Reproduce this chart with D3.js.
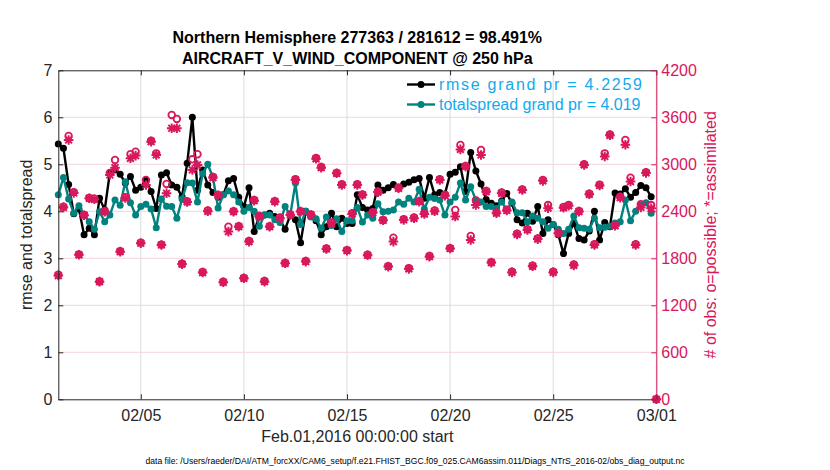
<!DOCTYPE html>
<html><head><meta charset="utf-8">
<script src="https://cdn.jsdelivr.net/npm/d3@7"></script>
<style>
body{margin:0;background:#fff;}
svg{display:block;font-family:"Liberation Sans",Arial,Helvetica,sans-serif;}
</style></head>
<body><svg id="c" width="830" height="470"></svg>
<script>
const titleLines = ["Northern Hemisphere 277363 / 281612 = 98.491%", "AIRCRAFT_V_WIND_COMPONENT @ 250 hPa"];
const xTickDates = ["2016-02-05","2016-02-10","2016-02-15","2016-02-20","2016-02-25","2016-03-01"];
const yLeftTicks = [0,1,2,3,4,5,6,7];
const yRightTicks = [0,600,1200,1800,2400,3000,3600,4200];
const legendLabels = ["rmse grand pr = 4.2259", "totalspread grand pr = 4.019"];

const rmse = [5.43,5.34,4.57,3.95,4.05,3.5,3.64,3.5,4.28,4.03,4.82,4.88,4.79,4.6,4.74,4.45,4.51,4.67,4.42,4.06,
4.77,4.82,4.56,4.51,4.31,5.02,6.0,4.45,4.88,4.56,4.4,4.3,4.35,4.65,4.7,4.3,4.1,4.5,3.57,3.9,
3.92,3.96,3.89,3.82,3.62,3.92,3.82,3.33,4.0,3.9,3.8,3.5,3.67,3.96,3.67,3.85,3.74,3.74,4.35,4.08,
4.03,4.06,4.56,4.45,4.5,4.57,4.5,4.58,4.62,4.67,4.7,4.28,4.72,4.35,4.4,4.37,4.79,4.83,4.95,4.42,
5.25,4.86,4.58,4.25,4.17,4.12,4.22,4.38,4.17,3.82,3.75,3.96,3.79,4.1,3.53,3.82,3.72,3.5,3.1,3.53,
3.74,3.42,3.39,3.58,4.0,3.39,3.76,3.67,4.39,4.37,4.48,4.3,4.4,4.55,4.5,4.31];

const spread = [4.35,4.72,4.26,3.96,4.12,3.92,3.78,3.62,3.99,3.78,3.92,4.24,4.13,4.63,4.18,3.92,4.1,4.15,4.05,3.65,
4.26,4.11,4.1,3.85,4.26,4.61,4.6,4.2,4.8,5.0,4.72,4.07,4.35,4.43,4.35,4.2,4.0,4.08,4.0,3.68,
3.92,3.92,3.82,3.76,4.1,3.92,4.6,3.72,4.0,3.88,3.84,3.64,3.88,3.7,3.84,3.57,3.8,3.8,4.08,3.77,
3.92,3.85,4.16,3.99,4.0,4.03,4.2,4.15,4.28,4.2,4.47,4.05,4.3,4.27,4.24,3.92,4.2,4.3,4.6,4.24,
4.52,4.24,4.2,4.1,4.1,4.06,4.2,4.03,4.2,3.97,3.97,3.78,3.9,3.85,3.78,3.64,3.72,3.62,3.53,3.62,
3.9,3.65,3.64,3.62,3.85,3.65,3.66,3.68,3.75,3.78,4.24,3.8,4.0,4.13,4.18,3.96];

const assimilated = [1580,2450,3311,2635,1845,2350,2566,2553,1502,2396,2864,2957,1885,2570,3077,3111,1992,2736,3289,3119,
1970,2630,3460,3460,1726,2520,2928,2992,1618,2400,2830,2605,1494,2141,2396,2204,1545,2013,2536,2332,
1502,2204,2523,2311,1736,2353,2800,2396,1758,2353,3070,2957,1919,2247,2885,2736,1898,2365,2736,2609,
1838,2380,2645,2285,1694,2013,2694,2290,1665,2311,2524,2365,1821,2400,2800,2600,1925,2333,3190,2970,
2034,2480,3119,2651,1745,2375,2630,2410,1620,2105,2672,2162,1698,2045,2789,2440,1620,2119,2445,2470,
1710,2396,2992,2617,1970,2730,3100,3370,2215,2575,3250,2780,1970,2450,2890,2438,0];

const possible = [1590,2460,3362,2645,1850,2355,2570,2560,1505,2400,2890,3055,1890,2580,3128,3160,2000,2800,3300,3140,
1975,2749,3630,3579,1730,2525,3064,3128,1625,2410,2840,2610,1500,2204,2400,2210,1550,2020,2545,2340,
1510,2210,2530,2320,1740,2360,2810,2400,1765,2360,3080,2965,1925,2255,2890,2745,1905,2375,2745,2615,
1845,2390,2650,2290,1700,2064,2700,2300,1675,2320,2530,2375,1830,2410,2810,2610,1930,2417,3247,2980,
2085,2540,3183,2660,1750,2385,2640,2420,1630,2115,2680,2170,1705,2055,2800,2480,1630,2125,2455,2480,
1720,2405,3000,2625,1980,2740,3140,3380,2225,2585,3311,2830,1980,2490,2900,2480,0];

const startDate = new Date(Date.UTC(2016,1,1));
const endDate = new Date(Date.UTC(2016,2,1));
const times = d3.range(possible.length).map(i => d3.utcHour.offset(startDate, 6*i));

const C_MAG = "#d8175c", C_TEAL = "#00827f", C_BLK = "#000000", C_AX = "#262626", C_LEG = "#11aaee";
const L = 58.3, R = 656.3, T = 70.3, B = 399.3;

const svg = d3.select("#c");
const x = d3.scaleUtc().domain([startDate, endDate]).range([L, R]);
const yL = d3.scaleLinear().domain([0,7]).range([B, T]);
const yR = d3.scaleLinear().domain([0,4200]).range([B, T]);
const xTicks = xTickDates.map(s => new Date(s + "T00:00:00Z"));

// grid
svg.append("g").selectAll("line").data(xTicks).join("line")
  .attr("x1", d => x(d)).attr("x2", d => x(d)).attr("y1", T).attr("y2", B)
  .attr("stroke", "#dcdcdc").attr("stroke-width", 1);
svg.append("g").selectAll("line").data(yRightTicks.slice(1, -1)).join("line")
  .attr("x1", L).attr("x2", R).attr("y1", d => yR(d)).attr("y2", d => yR(d))
  .attr("stroke", "#f6d3df").attr("stroke-width", 1);

// series lines
function series(vals, color) {
  const g = svg.append("g");
  g.append("path").datum(vals)
    .attr("fill", "none").attr("stroke", color).attr("stroke-width", 2.4).attr("stroke-linejoin", "round")
    .attr("d", d3.line().x((d, i) => x(times[i])).y(d => yL(d)));
  g.selectAll("circle").data(vals).join("circle")
    .attr("cx", (d, i) => x(times[i])).attr("cy", d => yL(d)).attr("r", 3.5).attr("fill", color);
}
series(rmse, C_BLK);
series(spread, C_TEAL);

// counts
const star = "M-4.8,0H4.8M0,-4.8V4.8M-3.4,-3.4L3.4,3.4M-3.4,3.4L3.4,-3.4";
const gc = svg.append("g");
gc.selectAll("circle").data(possible).join("circle")
  .attr("cx", (d, i) => x(times[i])).attr("cy", d => yR(d)).attr("r", 3.3)
  .attr("fill", "none").attr("stroke", C_MAG).attr("stroke-width", 1.8);
gc.selectAll("path").data(assimilated).join("path")
  .attr("transform", (d, i) => `translate(${x(times[i])},${yR(d)})`)
  .attr("d", star).attr("fill", "none").attr("stroke", C_MAG).attr("stroke-width", 2);

// axes
const axB = d3.axisBottom(x).tickValues(xTicks).tickFormat(d3.utcFormat("%m/%d")).tickSizeInner(-5).tickSizeOuter(0).tickPadding(10);
const axT = d3.axisTop(x).tickValues(xTicks).tickFormat("").tickSizeInner(-5).tickSizeOuter(0);
const axL = d3.axisLeft(yL).tickValues(yLeftTicks).tickFormat(d3.format("d")).tickSizeInner(-5).tickSizeOuter(0).tickPadding(6);
const axR = d3.axisRight(yR).tickValues(yRightTicks).tickFormat(d3.format("d")).tickSizeInner(-5).tickSizeOuter(0).tickPadding(5);

function styleAx(g, color) {
  g.selectAll("path.domain").attr("stroke", color).attr("stroke-width", 1);
  g.selectAll(".tick line").attr("stroke", color);
  g.selectAll(".tick text").attr("fill", color).style("font-size", "16px").style("font-family", '"Liberation Sans",Arial,sans-serif');
}
styleAx(svg.append("g").attr("transform", `translate(0,${B})`).call(axB), C_AX);
styleAx(svg.append("g").attr("transform", `translate(0,${T})`).call(axT), C_AX);
styleAx(svg.append("g").attr("transform", `translate(${L},0)`).call(axL), C_AX);
styleAx(svg.append("g").attr("transform", `translate(${R},0)`).call(axR), C_MAG);

// titles
svg.append("g").selectAll("text").data(titleLines).join("text")
  .attr("x", (L + R) / 2).attr("y", (d, i) => 43 + i * 20.5)
  .attr("text-anchor", "middle").attr("font-weight", "bold").attr("font-size", 16).attr("fill", "#000")
  .text(d => d);

svg.append("text").attr("transform", `translate(32,${(T + B) / 2}) rotate(-90)`)
  .attr("text-anchor", "middle").attr("font-size", 16).attr("fill", C_AX).text("rmse and totalspread");
svg.append("text").attr("transform", `translate(716,${(T + B) / 2}) rotate(-90)`)
  .attr("text-anchor", "middle").attr("font-size", 16).attr("fill", C_MAG).text("# of obs: o=possible; *=assimilated");
svg.append("text").attr("x", (L + R) / 2).attr("y", 442)
  .attr("text-anchor", "middle").attr("font-size", 16).attr("fill", C_AX).text("Feb.01,2016 00:00:00 start");
svg.append("text").attr("x", 415).attr("y", 464)
  .attr("text-anchor", "middle").attr("font-size", 8.6).attr("fill", "#000")
  .text("data file: /Users/raeder/DAI/ATM_forcXX/CAM6_setup/f.e21.FHIST_BGC.f09_025.CAM6assim.011/Diags_NTrS_2016-02/obs_diag_output.nc");

// legend
const leg = svg.append("g");
[C_BLK, C_TEAL].forEach((c, i) => {
  const yy = 84.5 + i * 20;
  leg.append("line").attr("x1", 407).attr("x2", 435).attr("y1", yy).attr("y2", yy).attr("stroke", c).attr("stroke-width", 2.4);
  leg.append("circle").attr("cx", 421).attr("cy", yy).attr("r", 3.5).attr("fill", c);
  const t = leg.append("text").attr("x", 439).attr("y", yy + 5.5).attr("font-size", 16).attr("fill", C_LEG).text(legendLabels[i]);
  if (i === 0) t.attr("textLength", 203).attr("lengthAdjust", "spacing");
});
</script></body></html>
